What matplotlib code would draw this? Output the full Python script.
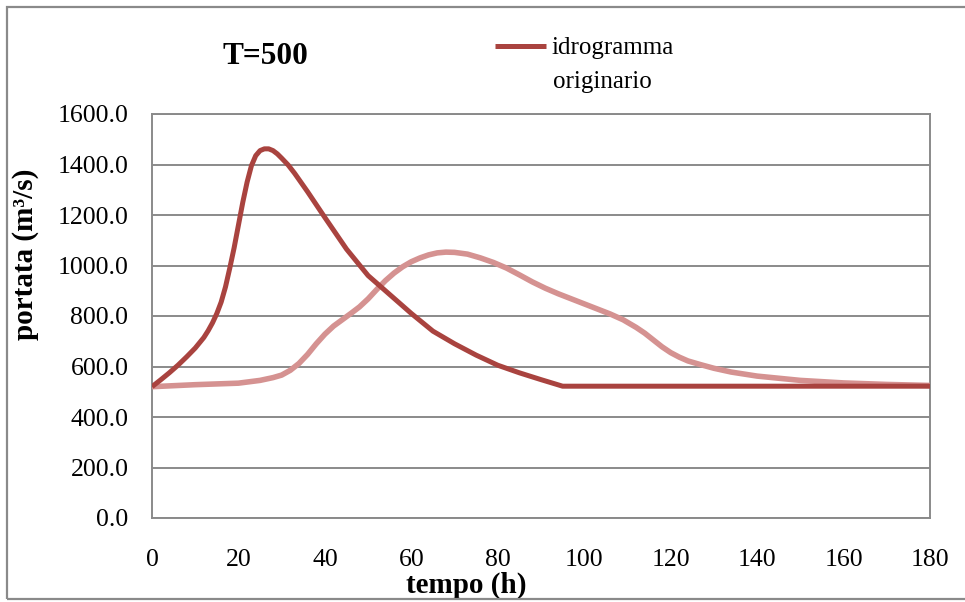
"""Flood hydrograph for return period T=500."""

import matplotlib.pyplot as plt
from matplotlib.patches import Rectangle

plt.rcParams["font.family"] = ["Liberation Serif", "DejaVu Serif"]

# original hydrograph (h, m3/s)
t_orig = [0, 2, 4, 6, 8, 10, 12, 13, 14, 15, 16, 17, 18, 19, 20, 21, 22, 23,
          24, 25, 26, 27, 28, 29, 30, 31.5, 33, 36, 40, 45, 50, 55, 60, 65, 70,
          75, 80, 85, 90, 95, 100, 120, 140, 160, 180]
q_orig = [520, 547, 575, 605, 638, 673, 715, 742, 773, 810, 855, 915, 990,
          1070, 1160, 1250, 1330, 1395, 1435, 1455, 1462, 1462, 1455, 1442,
          1425, 1398, 1365, 1292, 1190, 1065, 960, 885, 810, 740, 690, 645,
          605, 575, 548, 522, 522, 522, 522, 522, 522]

# routed hydrograph (h, m3/s)
t_lam = [0, 10, 20, 25, 28, 30, 32, 34, 36, 38, 40, 42, 44, 46, 48, 50, 52,
         54, 56, 58, 60, 62, 64, 66, 68, 70, 73, 76, 79, 82, 85, 88, 91, 94,
         97, 100, 103, 106, 109, 112, 114, 116, 118, 120, 122, 124, 127, 130,
         134, 140, 150, 160, 170, 180]
q_lam = [520, 528, 534, 545, 556, 566, 585, 612, 648, 690, 728, 760, 785, 810,
         836, 868, 905, 940, 970, 995, 1015, 1030, 1042, 1050, 1053, 1052,
         1045, 1030, 1012, 990, 963, 935, 910, 888, 868, 848, 828, 808, 785,
         755, 732, 705, 678, 655, 637, 622, 607, 593, 578, 562, 545, 535, 529,
         525]

x_ticks = [0, 20, 40, 60, 80, 100, 120, 140, 160, 180]
y_ticks = [0, 200, 400, 600, 800, 1000, 1200, 1400, 1600]

DARK = "#a9433f"
LIGHT = "#d59291"
GRID = "#8a8a8a"

fig = plt.figure(figsize=(9.65, 6.02), dpi=100)
ax = fig.add_axes([152 / 965, 1 - 518 / 602, 778 / 965, 404 / 602])

ax.plot(t_lam, q_lam, color=LIGHT, linewidth=4.0, solid_capstyle="butt",
        solid_joinstyle="round", zorder=3)
ax.plot(t_orig, q_orig, color=DARK, linewidth=3.6, solid_capstyle="butt",
        solid_joinstyle="round", zorder=4, label="idrogramma")

ax.set_xlim(0, 180)
ax.set_ylim(0, 1600)
ax.set_xticks(x_ticks)
ax.set_yticks(y_ticks)
ax.set_yticklabels([f"{v:.1f}" for v in y_ticks])
ax.tick_params(axis="both", length=0, labelsize=18.5)
ax.tick_params(axis="x", pad=22)
ax.tick_params(axis="y", pad=17)
ax.grid(True, axis="y", color=GRID, linewidth=1.4)
ax.set_axisbelow(True)
for spine in ax.spines.values():
    spine.set_color(GRID)
    spine.set_linewidth(1.4)

ax.set_xlabel("tempo (h)", fontsize=21, fontweight="bold")
ax.set_ylabel("portata (m³/s)", fontsize=21, fontweight="bold")
ax.xaxis.set_label_coords(0.404, -0.132)
ax.yaxis.set_label_coords(-0.145, 0.653)

fig.text(265 / 965, 1 - 56 / 602, "T=500", fontsize=22.6, fontweight="bold",
         ha="center", va="center")

leg = ax.legend(loc="center left", bbox_to_anchor=(495 / 965, 1 - 48 / 602),
                bbox_transform=fig.transFigure, frameon=False, fontsize=18,
                borderpad=0, borderaxespad=0, handlelength=2.05,
                handletextpad=0.2)
fig.text(553 / 965, 1 - 82 / 602, "originario", fontsize=18,
         ha="left", va="center")

# outer chart frame
fig.patches.append(Rectangle((7 / 965, 3 / 602), 1.0, 1 - 10 / 602,
                             transform=fig.transFigure, fill=False,
                             edgecolor=GRID, linewidth=1.6))

fig.savefig("out.png", dpi=100)
